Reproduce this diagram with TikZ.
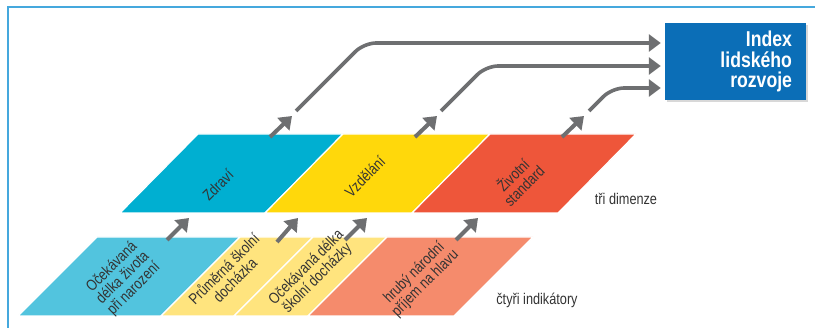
\documentclass[tikz,border=0pt]{standalone}
\usepackage{fontspec}
\setmainfont{Liberation Sans}[FakeStretch=0.82]
\usetikzlibrary{arrows.meta,shadows}

\definecolor{frameblue}{HTML}{45A8DD}
\definecolor{dimblue}{HTML}{00AFD1}
\definecolor{dimyellow}{HTML}{FFD80B}
\definecolor{dimred}{HTML}{EE563A}
\definecolor{indblue}{HTML}{52C4DE}
\definecolor{indyellow}{HTML}{FFE47E}
\definecolor{indsalmon}{HTML}{F58B6C}
\definecolor{arrowgray}{HTML}{6E6F71}
\definecolor{hdiblue}{HTML}{0B6EB7}
\definecolor{txtgray}{HTML}{333333}

\begin{document}
\begin{tikzpicture}[x=1pt,y=-1pt]
    \useasboundingbox (0,0) rectangle (815,328);
    \draw[frameblue,line width=2pt] (7.5,328) -- (7.5,7.5) -- (815,7.5);

    % tri dimenze
    \begin{scope}[draw=white,line width=1.2pt]
      \filldraw[fill=dimblue]   (120,213) -- (198,134) -- (343,134) -- (265,213) -- cycle;
      \filldraw[fill=dimyellow] (265,213) -- (343,134) -- (490,134) -- (412,213) -- cycle;
      \filldraw[fill=dimred]    (412,213) -- (490,134) -- (636,134) -- (558,213) -- cycle;
    \end{scope}

    % ctyri indikatory
    \begin{scope}[draw=white,line width=1.2pt]
      \filldraw[fill=indblue]   (18,316) -- (97,237) -- (240,237) -- (161,316) -- cycle;
      \filldraw[fill=indyellow] (161,316) -- (240,237) -- (313,237) -- (234,316) -- cycle;
      \filldraw[fill=indyellow] (234,316) -- (313,237) -- (387,237) -- (308,316) -- cycle;
      \filldraw[fill=indsalmon] (308,316) -- (387,237) -- (533,237) -- (454,316) -- cycle;
    \end{scope}

    \begin{scope}[every node/.style={rotate=45,align=center,text=txtgray,inner sep=0pt,
        font=\fontsize{15.5}{15.5}\selectfont}]
      \node (zdravi)   at (218,185) {Zdraví};
      \node (vzdelani) at (365,177) {Vzdělání};
      \node (zivot)    at (518,180) {Životní\\standard};
      \node (ocekzivot) at (123,278) {Očekávaná\\délka života\\při narození};
      \node (prumer)   at (229,274) {Průměrná školní\\docházka};
      \node (oceksk)   at (312,273) {Očekávaná délka\\školní docházky};
      \node (hnp)      at (420,278) {hrubý národní\\příjem na hlavu};
    \end{scope}

    \begin{scope}[every node/.style={text=txtgray,inner sep=0pt,
        font=\fontsize{15.5}{15.5}\selectfont}]
      \node (tridim) at (626,199) {tři dimenze};
      \node (ctyrind) at (537,300) {čtyři indikátory};
    \end{scope}

    \node[fill=hdiblue,minimum width=141pt,minimum height=77pt,inner xsep=14pt,
      text width=113pt,align=right,text=white,
      font=\fontsize{21.5}{20.5}\selectfont\bfseries,
      drop shadow={shadow xshift=2pt,shadow yshift=-2pt,fill=black!30}]
      (hdi) at (735.5,61.5) {Index\\lidského\\rozvoje};

    % konce sipek
    \coordinate (ocekzivot-out) at (167,240);
    \coordinate (prumer-out)    at (277,242);
    \coordinate (oceksk-out)    at (345,240);
    \coordinate (hnp-out)       at (456,240);
    \coordinate (zdravi-in)     at (189,218);
    \coordinate (vzdelani-in1)  at (298,218);
    \coordinate (vzdelani-in2)  at (367,218);
    \coordinate (zivot-in)      at (478,218);
    \coordinate (zdravi-out)    at (270,137);
    \coordinate (vzdelani-out)  at (415,137);
    \coordinate (zivot-out)     at (562,137);
    \coordinate (zdravi-up)     at (292,116);
    \coordinate (vzdelani-up)   at (437,116);
    \coordinate (zivot-up)      at (584,116);
    \coordinate (zdravi-go)     at (296,111);
    \coordinate (vzdelani-go)   at (441,111);
    \coordinate (zivot-go)      at (589,111);
    \coordinate (zdravi-bend)   at (364,43);
    \coordinate (vzdelani-bend) at (486,66);
    \coordinate (zivot-bend)    at (612,88);

    \begin{scope}[>={Triangle[width=17pt,length=12pt]},
        every edge/.style={draw=arrowgray,line width=4pt}]
      \path [->] (ocekzivot-out) edge (zdravi-in)
                 (prumer-out) edge (vzdelani-in1)
                 (oceksk-out) edge (vzdelani-in2)
                 (hnp-out) edge (zivot-in)
                 (zdravi-out) edge (zdravi-up)
                 (vzdelani-out) edge (vzdelani-up)
                 (zivot-out) edge (zivot-up);
    \end{scope}

    \begin{scope}[>={Triangle[width=17pt,length=12pt]},
        draw=arrowgray,line width=3.6pt,rounded corners=12pt]
      \draw[->,shorten >=4pt] (zdravi-go) -- (zdravi-bend) -- (hdi.west |- zdravi-bend);
      \draw[->,shorten >=4pt] (vzdelani-go) -- (vzdelani-bend) -- (hdi.west |- vzdelani-bend);
      \draw[->,shorten >=4pt] (zivot-go) -- (zivot-bend) -- (hdi.west |- zivot-bend);
    \end{scope}
  \end{tikzpicture}
\end{document}
